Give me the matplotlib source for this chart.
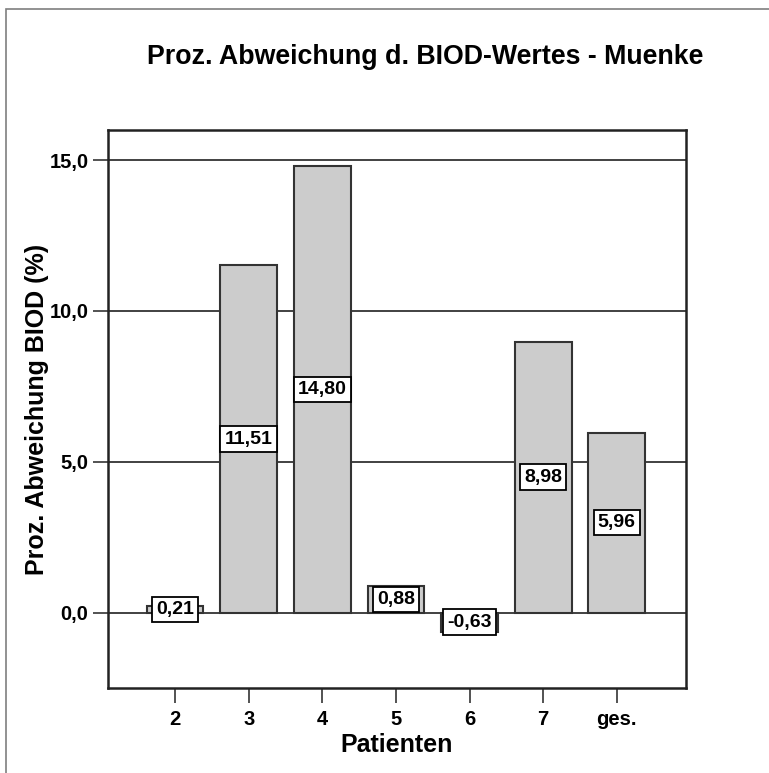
import matplotlib.pyplot as plt
from matplotlib.patches import Rectangle

plt.rcParams['font.family'] = ['Liberation Sans', 'DejaVu Sans']

patienten = ['2', '3', '4', '5', '6', '7', 'ges.']
abweichung = [0.21, 11.51, 14.80, 0.88, -0.63, 8.98, 5.96]

fig = plt.figure(figsize=(7.69, 7.73), dpi=100)
ax = fig.add_axes([108 / 769, 1 - 688 / 773, 578 / 769, 558 / 773])

# outer frame, only its top and left edges fall inside the figure
frame_top = 1 - 9 / 773
fig.patches.append(Rectangle((6 / 769, -0.05), 1, frame_top + 0.05, transform=fig.transFigure,
                             fill=False, edgecolor='#7f7f7f', linewidth=1.2))

x = list(range(len(patienten)))
ax.bar(x, abweichung, width=0.77, color='#cccccc', edgecolor='#333333', linewidth=1.5, zorder=3)

# value boxes sit at half the bar height
for xi, v in zip(x, abweichung):
    ax.text(xi, v / 2, f'{v:.2f}'.replace('.', ','), ha='center', va='center',
            fontsize=14, fontweight='bold', zorder=4,
            bbox=dict(boxstyle='square,pad=0.22', facecolor='white', edgecolor='black', linewidth=1.3))

ax.set_xlim(-0.91, 6.94)
ax.set_ylim(-2.5, 16)
ax.set_yticks([0, 5, 10, 15])
ax.set_yticklabels(['0,0', '5,0', '10,0', '15,0'])
ax.set_xticks(x)
ax.set_xticklabels(patienten)
ax.yaxis.grid(True, color='#333333', linewidth=1.3, zorder=1)
ax.set_axisbelow(True)
ax.tick_params(direction='out', length=11, width=1.3, color='#444444', labelsize=14.5, pad=3)
ax.tick_params(axis='x', pad=5)
for lab in ax.get_xticklabels() + ax.get_yticklabels():
    lab.set_fontweight('bold')
for sp in ax.spines.values():
    sp.set_linewidth(1.8)
    sp.set_color('#222222')

ax.set_xlabel('Patienten', fontsize=18, fontweight='bold', labelpad=3)
ax.set_ylabel('Proz. Abweichung BIOD (%)', fontsize=18, fontweight='bold', labelpad=0)
fig.text(425 / 769, 1 - 57 / 773, 'Proz. Abweichung d. BIOD-Wertes - Muenke', ha='center', va='center',
         fontsize=19.3, fontweight='bold')

fig.savefig('out.png', dpi=100, facecolor='white')
